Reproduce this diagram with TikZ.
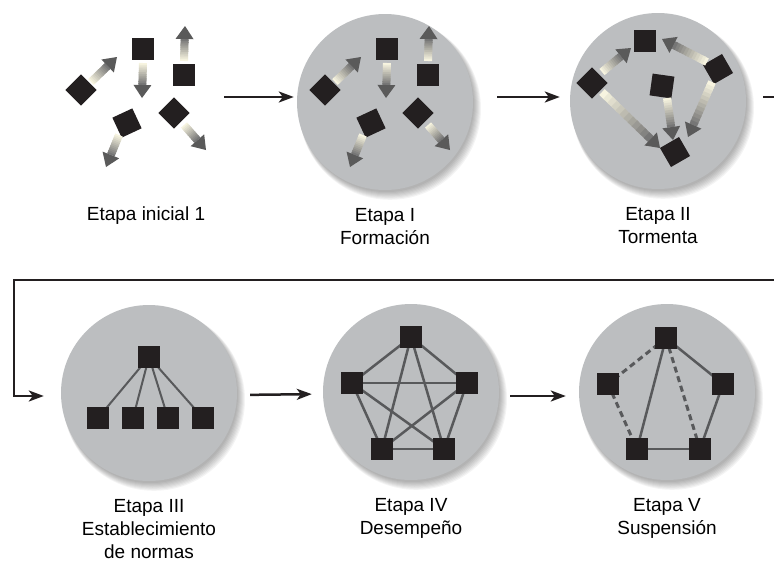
\documentclass[tikz,border=0pt]{standalone}
\usepackage{fontspec}
\setmainfont{Liberation Sans}
\usetikzlibrary{arrows.meta,positioning,calc}
\definecolor{discgray}{RGB}{188,190,192}
\definecolor{boxblack}{RGB}{35,31,32}
\definecolor{linkgray}{RGB}{88,89,91}
\definecolor{shaftlight}{RGB}{247,244,224}
\definecolor{shaftdark}{RGB}{118,118,118}
\definecolor{headgray}{RGB}{90,90,90}
\pgfdeclarelayer{back}
\pgfdeclarelayer{links}
\pgfsetlayers{back,links,main}

% shaded arrow between two points
\newcommand{\gradarrow}[2]{%
  \coordinate (ga-s) at #1;
  \coordinate (ga-e) at #2;
  \coordinate (ga-h) at ($(ga-e)!13pt!(ga-s)$);
  \foreach \k in {0,...,11}{%
    \pgfmathsetmacro{\gaa}{\k/12}%
    \pgfmathsetmacro{\gab}{min(1,(\k+1.4)/12)}%
    \pgfmathtruncatemacro{\gam}{100*\k/11}%
    \draw[line width=8pt,color=shaftdark!\gam!shaftlight] ($(ga-s)!\gaa!(ga-h)$) -- ($(ga-s)!\gab!(ga-h)$);
  }%
  \fill[headgray] (ga-e) -- ($(ga-h)!9pt!90:(ga-e)$) -- ($(ga-h)!9pt!-90:(ga-e)$) -- cycle;
}

% five scattered members around a centre
\newcommand{\scatterset}[2]{%
  \begin{scope}[shift={#2}]
    \node[member,rotate=45] (#1a) at (-60,-10) {};
    \node[member] (#1b) at (2,-51) {};
    \node[member] (#1c) at (43,-25) {};
    \node[member,rotate=25] (#1d) at (-14,23) {};
    \node[member,rotate=45] (#1e) at (33,13) {};
  \end{scope}
  \gradarrow{($(#1a)+(10,-8)$)}{($(#1a)+(36,-33)$)}
  \gradarrow{($(#1b)+(0,14)$)}{($(#1b)+(-1,49)$)}
  \gradarrow{($(#1c)+(0,-14)$)}{($(#1c)+(1,-49)$)}
  \gradarrow{($(#1d)+(-8,12)$)}{($(#1d)+(-21,44)$)}
  \gradarrow{($(#1e)+(10,12)$)}{($(#1e)+(32,37)$)}
}

\begin{document}
\begin{tikzpicture}[x=1pt,y=-1pt,>={Stealth[length=15pt,width=11pt,inset=4pt]}]
  \tikzstyle{member}=[rectangle,fill=boxblack,minimum size=22pt,inner sep=0pt]
  \tikzstyle{stage}=[circle,fill=discgray,minimum size=176pt,inner sep=0pt]
  \tikzstyle{stagelabel}=[align=center,font=\fontsize{19}{23}\selectfont,inner sep=0pt]
  \tikzstyle{link}=[linkgray,line width=2.5pt]
  \tikzstyle{flow}=[boxblack,line width=2.5pt]

  \useasboundingbox (0,0) rectangle (774,568);

  % discs with soft shadow
  \begin{pgfonlayer}{back}
    \foreach \n/\cx/\cy in {s1/385/102,s2/658/101,s3/149/393,s4/411/392,s5/667/392}{
      \foreach \k in {1,...,8}
        \fill[black,opacity=0.045] (\cx+1+\k*0.5,\cy+2+\k*0.6) circle[radius=87+\k*0.5];
      \node[stage] (\n) at (\cx,\cy) {};
    }
  \end{pgfonlayer}

  % labels
  \node[stagelabel,anchor=north] (lab0) at (146,207) {Etapa inicial 1};
  \node[stagelabel,below=18pt of s1] (lab1) {Etapa I\\Formación};
  \node[stagelabel,below=18pt of s2] (lab2) {Etapa II\\Tormenta};
  \node[stagelabel,below=18pt of s3] (lab3) {Etapa III\\Establecimiento\\de normas};
  \node[stagelabel,below=18pt of s4] (lab4) {Etapa IV\\Desempeño};
  \node[stagelabel,below=18pt of s5] (lab5) {Etapa V\\Suspensión};

  % initial and stage I
  \scatterset{ini}{(141,100)}
  \scatterset{frm}{(385,100)}

  % stage II
  \node[member] (tt) at (645,41) {};
  \node[member,rotate=45] (tl) at (592,83) {};
  \node[member,rotate=30] (tr) at (718,69) {};
  \node[member,rotate=-8] (tm) at (662,86) {};
  \node[member,rotate=30] (tb) at (675,152) {};
  \gradarrow{($(tl)+(10,-11)$)}{($(tt)+(-14,7)$)}
  \gradarrow{($(tr)+(-11,-7)$)}{($(tt)+(17,-2)$)}
  \gradarrow{($(tl)+(10,9)$)}{($(tb)+(-15,-4)$)}
  \gradarrow{($(tm)+(5,12)$)}{($(tb)+(-2,-12)$)}
  \gradarrow{($(tr)+(-6,13)$)}{($(tb)+(13,-15)$)}

  % stage III
  \node[member] (n0) at (149,357) {};
  \foreach \i/\x in {1/98,2/133,3/168,4/203}
    \node[member] (n\i) at (\x,418) {};
  \begin{pgfonlayer}{links}
    \foreach \i in {1,...,4}
      \draw[link,line width=2pt] (n0.center) -- (n\i.center);
  \end{pgfonlayer}

  % stage IV
  \foreach \n/\x/\y in {p1/411/337,p2/467/383,p3/444/449,p4/382/449,p5/352/383}
    \node[member] (\n) at (\x,\y) {};
  \begin{pgfonlayer}{links}
    \foreach \a/\b in {p1/p2,p1/p3,p1/p4,p1/p5,p2/p3,p2/p4,p2/p5,p3/p4,p3/p5,p4/p5}
      \draw[link] (\a.center) -- (\b.center);
  \end{pgfonlayer}

  % stage V
  \foreach \n/\x/\y in {q1/666/338,q2/723/384,q3/700/449,q4/637/449,q5/608/384}
    \node[member] (\n) at (\x,\y) {};
  \begin{pgfonlayer}{links}
    \foreach \a/\b in {q1/q2,q2/q3,q3/q4,q1/q4}
      \draw[link] (\a.center) -- (\b.center);
    \foreach \a/\b in {q1/q5,q5/q4,q1/q3}
      \draw[link,line width=3pt,dash pattern=on 6pt off 4pt] (\a.center) -- (\b.center);
  \end{pgfonlayer}

  % flow between stages
  \coordinate (c0) at (224,97);
  \coordinate (c1) at (774,97);
  \coordinate (c2) at (774,280);
  \coordinate (c3) at (14,280);
  \draw[flow,->,shorten >=3pt] (c0) -- (c0 -| s1.west);
  \draw[flow,->,shorten <=24pt,shorten >=10pt] (c0 -| s1.east) -- (c0 -| s2.west);
  \draw[flow,shorten <=17pt] (c0 -| s2.east) -- (c1);
  \draw[flow,->,shorten >=17pt] (c2) -- (c3) |- ([yshift=-3pt]s3.west);
  \draw[flow,->,shorten <=13pt,shorten >=11pt] ([yshift=-2pt]s3.east) -- ([yshift=-2pt]s4.west);
  \draw[flow,->,shorten <=11pt,shorten >=13pt] ([yshift=-4pt]s4.east) -- ([yshift=-4pt]s5.west);
\end{tikzpicture}
\end{document}
